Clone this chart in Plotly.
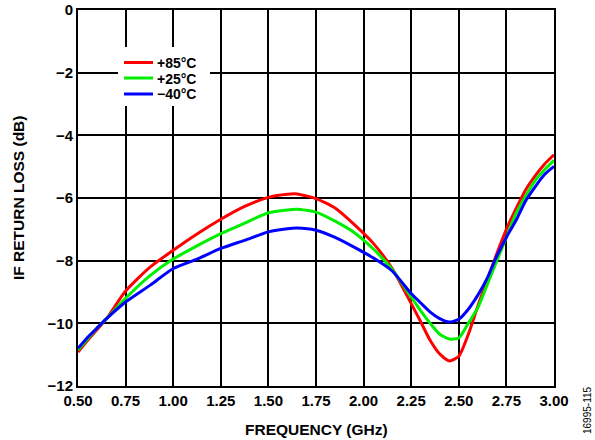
import plotly.graph_objects as go

freq = [0.50, 0.55, 0.60, 0.65, 0.75, 0.88, 1.00, 1.125, 1.25, 1.375, 1.50, 1.60, 1.65,
        1.75, 1.85, 1.95, 2.05, 2.15, 2.25, 2.30, 2.35, 2.40, 2.45, 2.50, 2.55, 2.60,
        2.65, 2.70, 2.75, 2.80, 2.85, 2.90, 2.95, 3.00]

rl_85 = [-10.92, -10.55, -10.20, -9.85, -8.97, -8.20, -7.67, -7.15, -6.68, -6.27, -5.98, -5.88, -5.87,
         -6.02, -6.32, -6.84, -7.44, -8.25, -9.37, -9.95, -10.55, -10.98, -11.20, -11.05, -10.35, -9.45,
         -8.60, -7.77, -7.00, -6.35, -5.75, -5.30, -4.92, -4.62]

rl_25 = [-10.85, -10.50, -10.15, -9.85, -9.20, -8.47, -7.95, -7.53, -7.14, -6.80, -6.47, -6.38, -6.36,
         -6.45, -6.74, -7.10, -7.62, -8.28, -9.16, -9.60, -10.00, -10.35, -10.50, -10.47, -10.00, -9.50,
         -8.75, -8.00, -7.25, -6.50, -5.95, -5.45, -5.10, -4.80]

rl_m40 = [-10.80, -10.45, -10.15, -9.85, -9.32, -8.78, -8.25, -7.95, -7.61, -7.35, -7.08, -6.98, -6.96,
          -7.03, -7.26, -7.57, -7.91, -8.33, -9.05, -9.35, -9.64, -9.85, -9.96, -9.87, -9.55, -9.10,
          -8.55, -7.85, -7.25, -6.72, -6.10, -5.65, -5.25, -4.99]

series_names = ["+85°C", "+25°C", "\u221240°C"]
series_colors = ["#ff0000", "#00ee00", "#0000ff"]
series_values = [rl_85, rl_25, rl_m40]

x_ticks = [0.50, 0.75, 1.00, 1.25, 1.50, 1.75, 2.00, 2.25, 2.50, 2.75, 3.00]
x_ticktext = ["0.50", "0.75", "1.00", "1.25", "1.50", "1.75", "2.00", "2.25", "2.50", "2.75", "3.00"]
y_ticks = [0, -2, -4, -6, -8, -10, -12]

FONT = "Liberation Sans, Arial, sans-serif"
W, H = 595, 440
L, R, T, B = 78, 41, 10, 54
PW, PH = W - L - R, H - T - B


def px(xp):
    return (xp - L) / PW


def py(yp):
    return 1 - (yp - T) / PH


fig = go.Figure()
for name, color, vals in zip(series_names, series_colors, series_values):
    fig.add_trace(go.Scatter(x=freq, y=vals, mode="lines", name=name, showlegend=False,
                             line=dict(color=color, width=3, shape="spline", smoothing=0.6)))

fig.update_layout(
    width=W, height=H,
    margin=dict(l=L, r=R, t=T, b=B, autoexpand=False),
    paper_bgcolor="white", plot_bgcolor="white",
    font=dict(family=FONT, size=15, color="black"),
    showlegend=False,
)

fig.update_xaxes(range=[0.5, 3.0], tickvals=x_ticks, ticktext=x_ticktext,
                 showgrid=True, gridcolor="black", gridwidth=1.5,
                 showline=True, linecolor="black", linewidth=2, mirror=True,
                 ticks="", zeroline=False, automargin=False,
                 tickfont=dict(family=FONT, size=15, weight="bold"))
fig.update_yaxes(range=[-12, 0], tickvals=y_ticks,
                 showgrid=True, gridcolor="black", gridwidth=1.5,
                 showline=True, linecolor="black", linewidth=2, mirror=True,
                 ticks="", zeroline=False, automargin=False,
                 tickfont=dict(family=FONT, size=15, weight="bold"))

# axis titles
fig.add_annotation(text="<b>FREQUENCY (GHz)</b>", xref="paper", yref="paper",
                   x=px(316), y=py(429), xanchor="center", yanchor="middle", showarrow=False,
                   font=dict(family=FONT, size=15.5, color="black"))
fig.add_annotation(text="<b>IF RETURN LOSS (dB)</b>", xref="paper", yref="paper",
                   x=px(18), y=py(198), xanchor="center", yanchor="middle", showarrow=False,
                   textangle=-90, font=dict(family=FONT, size=15.5, color="black"))

# legend (drawn manually to match compact spacing)
fig.add_shape(type="rect", xref="paper", yref="paper", x0=px(118), x1=px(210), y0=py(106), y1=py(47),
              fillcolor="white", line=dict(width=0), layer="above")
leg_y = [62.5, 78, 94]
for name, color, yy in zip(series_names, series_colors, leg_y):
    fig.add_shape(type="line", xref="paper", yref="paper", x0=px(124), x1=px(153), y0=py(yy), y1=py(yy),
                  line=dict(color=color, width=3), layer="above")
    fig.add_annotation(text="<b>" + name + "</b>", xref="paper", yref="paper",
                       x=px(156), y=py(yy), xanchor="left", yanchor="middle", showarrow=False,
                       height=13, borderpad=0,
                       font=dict(family=FONT, size=14, color="black"))

fig.add_annotation(text="16995-115", xref="paper", yref="paper",
                   x=px(587), y=py(410), xanchor="center", yanchor="middle", textangle=-90, showarrow=False,
                   font=dict(family=FONT, size=10, color="black"))

fig.write_html("out.html", config={"displayModeBar": False},
               post_script="document.body.style.margin='0';document.body.style.overflow='hidden';")
